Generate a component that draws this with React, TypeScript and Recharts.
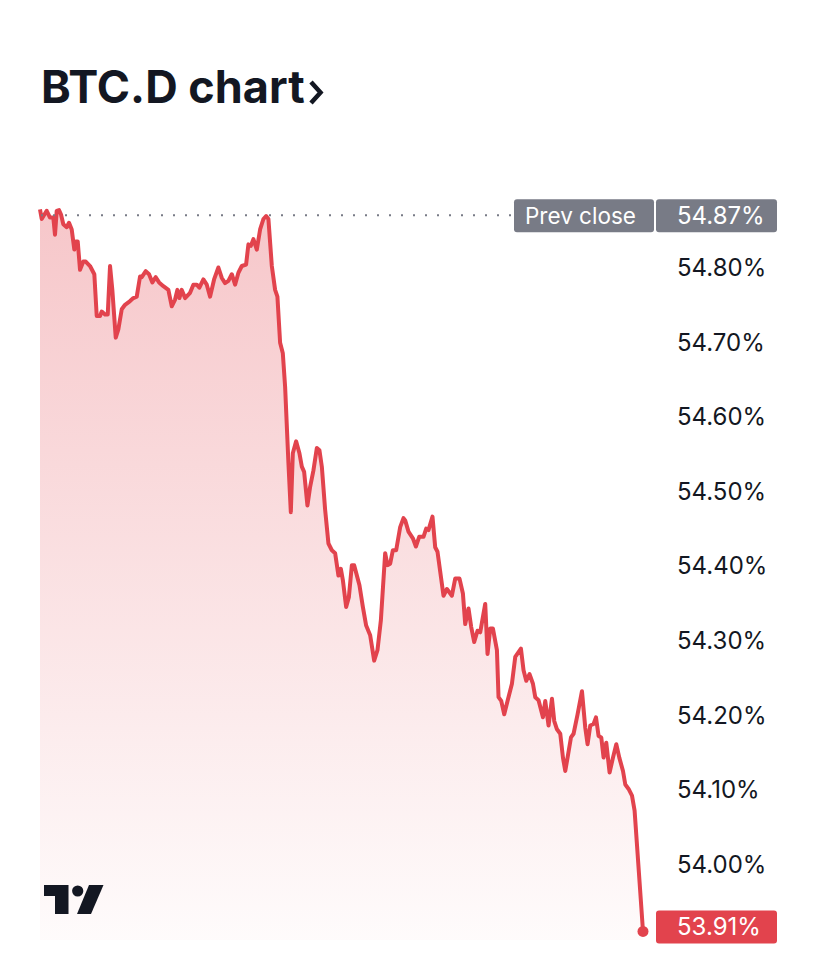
import React from 'react';
import { AreaChart, Area, XAxis, YAxis, ReferenceLine } from 'recharts';

// minutes-ish position along the session (pixel spacing of the source)
const times = [
  0, 1.7, 6.7, 10, 13.3, 15, 16.7, 19, 21, 23.3,
  26.7, 29, 31.7, 34.3, 35.7, 37.7, 40, 43.3, 45.7, 50,
  54.3, 56.7, 60, 61.7, 65, 67.7, 70, 72.3, 75.7, 78.3,
  81.7, 85, 90, 93.3, 96.7, 100, 101.7, 105.7, 109, 112.3,
  115.7, 119, 123.3, 128.3, 131.7, 135, 137.3, 139.3, 141.7, 145,
  150, 153.3, 156.7, 159.3, 163.3, 166.7, 170, 174, 178.3, 181.7,
  185, 188.3, 191.7, 195, 198.3, 201.7, 206, 208.3, 210.7, 213.3,
  216.7, 220, 223.3, 226, 228.3, 231.7, 235, 237.3, 240, 242.7,
  245, 248.3, 250.7, 252.7, 256, 259.3, 261.7, 264, 267.3, 270,
  273.3, 276.7, 279.3, 281.7, 285, 288.3, 291.7, 295, 298.3, 300.7,
  302.7, 306, 308.7, 311.7, 314, 319.3, 322.7, 326, 330, 334,
  337.3, 340.7, 345, 347.3, 350, 352.7, 356, 360, 363.3, 365,
  368.3, 372.7, 375.7, 379, 383.3, 386, 388.3, 392.3, 395, 397.3,
  403.3, 406.7, 411.7, 415, 419.3, 422.7, 425, 428.3, 431, 434,
  437.3, 440, 445, 447.3, 450, 452.7, 456.7, 458.3, 461, 464,
  467.3, 471.7, 475, 480.7, 483.3, 486, 489.3, 492.7, 495, 498.3,
  502.7, 505, 508.3, 511.7, 514, 516.7, 520, 522.7, 525, 527.3,
  530.7, 533.3, 537.3, 541.7, 545, 547.3, 550, 553.3, 555.7, 558.3,
  561, 563.3, 566, 569.3, 572.7, 576, 579, 582.7, 585, 588.3,
  591.7, 594.3, 602.7,
];

// BTC dominance, %
const dominance = [
  54.878, 54.865, 54.876, 54.867, 54.867, 54.844, 54.876, 54.877, 54.871, 54.858,
  54.854, 54.86, 54.851, 54.824, 54.835, 54.835, 54.797, 54.808, 54.808, 54.802,
  54.791, 54.735, 54.735, 54.741, 54.737, 54.737, 54.802, 54.77, 54.706, 54.717,
  54.744, 54.75, 54.755, 54.759, 54.761, 54.788, 54.787, 54.795, 54.791, 54.78,
  54.787, 54.78, 54.775, 54.77, 54.748, 54.757, 54.77, 54.759, 54.77, 54.759,
  54.766, 54.777, 54.777, 54.773, 54.784, 54.777, 54.761, 54.784, 54.8, 54.786,
  54.779, 54.782, 54.791, 54.777, 54.793, 54.802, 54.804, 54.831, 54.829, 54.838,
  54.824, 54.851, 54.865, 54.869, 54.865, 54.802, 54.77, 54.761, 54.699, 54.685,
  54.64, 54.538, 54.472, 54.551, 54.567, 54.551, 54.533, 54.526, 54.481, 54.506,
  54.528, 54.558, 54.555, 54.533, 54.475, 54.43, 54.421, 54.417, 54.387, 54.396,
  54.381, 54.345, 54.358, 54.401, 54.401, 54.374, 54.345, 54.32, 54.307, 54.273,
  54.287, 54.327, 54.417, 54.401, 54.403, 54.421, 54.421, 54.452, 54.464, 54.461,
  54.446, 54.437, 54.426, 54.439, 54.439, 54.45, 54.448, 54.466, 54.425, 54.419,
  54.36, 54.369, 54.36, 54.383, 54.383, 54.363, 54.322, 54.343, 54.318, 54.298,
  54.313, 54.311, 54.349, 54.282, 54.316, 54.316, 54.287, 54.224, 54.219, 54.201,
  54.219, 54.242, 54.278, 54.289, 54.26, 54.246, 54.255, 54.242, 54.224, 54.22,
  54.197, 54.219, 54.186, 54.222, 54.192, 54.181, 54.175, 54.143, 54.125, 54.143,
  54.17, 54.175, 54.201, 54.232, 54.183, 54.161, 54.186, 54.188, 54.197, 54.172,
  54.17, 54.143, 54.163, 54.123, 54.143, 54.161, 54.143, 54.125, 54.107, 54.101,
  54.092, 54.072, 53.91,
];

const yTicks = [54.0, 54.1, 54.2, 54.3, 54.4, 54.5, 54.6, 54.7, 54.8];
const prevClose = 54.87;
const lastValue = dominance[dominance.length - 1];

const data = times.map((t, i) => ({ t, value: dominance[i] }));

const RED = '#e2434d';
const GREY = '#787b86';
const INK = '#131722';
const FONT = 'Inter, "Noto Sans", sans-serif';

const fmt = (v: number) => `${v.toFixed(2)}%`;

// grey "Prev close | 54.87%" tag sitting on the dotted line
const PrevCloseTag = (props: any) => {
  const { x, y, width } = props.viewBox;
  const right = x + width;
  return (
    <g>
      <rect x={right - 129} y={y - 16} width={140} height={33} rx={3} fill={GREY} />
      <rect x={right + 13} y={y - 16} width={121} height={33} rx={3} fill={GREY} />
      <text x={right - 118} y={y + 8.5} fill="#fff" fontSize={22.5} fontFamily={FONT}>
        Prev close
      </text>
      <text x={right + 34} y={y + 8.5} fill="#fff" fontSize={24} fontFamily={FONT}>
        {fmt(prevClose)}
      </text>
    </g>
  );
};

// red last-price tag
const LastTag = (props: any) => {
  const { x, y, width } = props.viewBox;
  const right = x + width;
  return (
    <g>
      <circle cx={right} cy={y} r={5.5} fill={RED} />
      <rect x={right + 13} y={y - 21} width={121} height={33} rx={3} fill={RED} />
      <text x={right + 34} y={y + 3.5} fill="#fff" fontSize={24} fontFamily={FONT}>
        {fmt(lastValue)}
      </text>
    </g>
  );
};

export default function App() {
  return (
    <div style={{ position: 'absolute', left: 0, top: 0, width: 828, height: 953, background: '#fff' }}>
      <AreaChart
        width={828}
        height={953}
        data={data}
        margin={{ top: 180, right: 40, bottom: 13, left: 40 }}
      >
        <defs>
          <linearGradient id="btcdFill" x1="0" y1="0" x2="0" y2="1">
            <stop offset="0%" stopColor={RED} stopOpacity={0.3} />
            <stop offset="100%" stopColor={RED} stopOpacity={0.02} />
          </linearGradient>
        </defs>
        <XAxis dataKey="t" type="number" domain={[0, 602.7]} hide />
        <YAxis
          orientation="right"
          width={145}
          domain={[53.8985, 54.9173]}
          ticks={yTicks}
          allowDataOverflow
          axisLine={false}
          tickLine={false}
          tickMargin={28}
          tickFormatter={fmt}
          tick={{ fill: INK, fontSize: 24, fontFamily: FONT, textAnchor: 'start' }}
        />
        {/* dotted previous close */}
        <ReferenceLine
          y={prevClose}
          stroke={GREY}
          strokeWidth={2}
          strokeDasharray="2 10"
          ifOverflow="visible"
          label={(p: any) => <PrevCloseTag {...p} />}
        />
        <Area
          type="linear"
          dataKey="value"
          stroke={RED}
          strokeWidth={4}
          strokeLinejoin="round"
          fill="url(#btcdFill)"
          fillOpacity={1}
          dot={false}
          activeDot={false}
          isAnimationActive={false}
        />
        <ReferenceLine
          y={lastValue}
          stroke="none"
          ifOverflow="visible"
          label={(p: any) => <LastTag {...p} />}
        />
      </AreaChart>

      {/* title and TradingView mark */}
      <svg
        width={828}
        height={953}
        style={{ position: 'absolute', left: 0, top: 0, pointerEvents: 'none' }}
      >
        <text x={41} y={103} fill={INK} fontSize={45} fontWeight={700} fontFamily={FONT}>
          BTC.D chart
        </text>
        <path d="M311,82 L320.5,92.5 L311,103" fill="none" stroke={INK} strokeWidth={4.5} />
        <path d="M44,885 H68.5 V914 H55 V896 H44 Z" fill={INK} />
        <circle cx={77.7} cy={891} r={5.6} fill={INK} />
        <path d="M89,885 H103.5 L91,914 H77 Z" fill={INK} />
      </svg>
    </div>
  );
}
